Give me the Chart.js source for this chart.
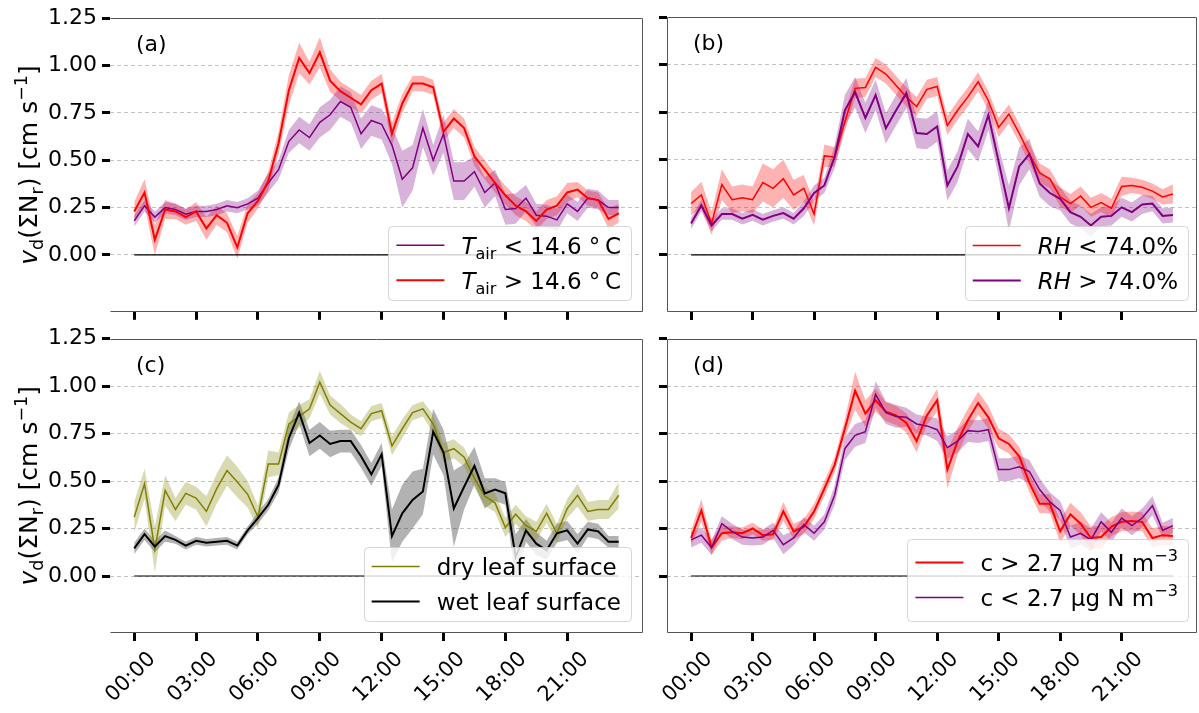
<!DOCTYPE html>
<html><head><meta charset="utf-8">
<script src="https://cdn.jsdelivr.net/npm/chart.js@4.4.0/dist/chart.umd.min.js"></script>
<style>
html,body{margin:0;padding:0;background:#fff;}
body{width:1199px;height:713px;position:relative;overflow:hidden;}
canvas{position:absolute;}
</style></head><body>
<canvas id="ca"></canvas><canvas id="cb"></canvas><canvas id="cc"></canvas><canvas id="cd"></canvas>
<script>
// ---------- categories & ticks ----------
const times = ['00:00','00:30','01:00','01:30','02:00','02:30','03:00','03:30','04:00','04:30','05:00','05:30',
  '06:00','06:30','07:00','07:30','08:00','08:30','09:00','09:30','10:00','10:30','11:00','11:30',
  '12:00','12:30','13:00','13:30','14:00','14:30','15:00','15:30','16:00','16:30','17:00','17:30',
  '18:00','18:30','19:00','19:30','20:00','20:30','21:00','21:30','22:00','22:30','23:00','23:30'];
const xTickLabels = ['00:00','03:00','06:00','09:00','12:00','15:00','18:00','21:00'];
const yTicks = [0, 0.25, 0.5, 0.75, 1.0, 1.25];

// ---------- (a) air temperature ----------
const aCold = [0.18,0.26,0.20,0.25,0.24,0.215,0.23,0.23,0.24,0.26,0.25,0.27,0.30,0.38,0.45,0.60,0.66,0.62,0.70,0.74,0.81,0.78,0.64,0.71,0.69,0.58,0.40,0.46,0.67,0.50,0.64,0.39,0.39,0.44,0.33,0.38,0.24,0.245,0.30,0.21,0.205,0.185,0.27,0.23,0.30,0.29,0.25,0.25];
const aColdErr = [0.03,0.03,0.03,0.03,0.03,0.03,0.03,0.03,0.03,0.03,0.03,0.03,0.04,0.05,0.05,0.06,0.07,0.07,0.08,0.08,0.08,0.08,0.08,0.08,0.08,0.1,0.15,0.12,0.1,0.08,0.1,0.1,0.1,0.08,0.08,0.07,0.08,0.08,0.07,0.06,0.06,0.06,0.05,0.05,0.05,0.05,0.04,0.04];
const aWarm = [0.23,0.33,0.08,0.24,0.23,0.20,0.23,0.14,0.21,0.17,0.04,0.22,0.285,0.39,0.59,0.87,1.04,0.96,1.07,0.92,0.865,0.83,0.795,0.87,0.905,0.64,0.80,0.905,0.905,0.885,0.65,0.72,0.67,0.52,0.45,0.38,0.315,0.26,0.23,0.18,0.24,0.26,0.33,0.345,0.30,0.29,0.19,0.22];
const aWarmErr = [0.05,0.07,0.08,0.05,0.04,0.04,0.05,0.06,0.05,0.05,0.06,0.05,0.04,0.05,0.06,0.08,0.08,0.06,0.08,0.06,0.05,0.05,0.05,0.05,0.05,0.06,0.05,0.04,0.04,0.04,0.05,0.05,0.05,0.05,0.05,0.05,0.05,0.05,0.05,0.05,0.05,0.05,0.05,0.04,0.04,0.04,0.05,0.05];

// ---------- (b) relative humidity ----------
const bDry = [0.27,0.315,0.165,0.37,0.29,0.30,0.29,0.38,0.35,0.40,0.315,0.35,0.215,0.52,0.515,0.70,0.875,0.88,0.985,0.95,0.89,0.83,0.78,0.87,0.885,0.68,0.76,0.83,0.91,0.81,0.67,0.74,0.64,0.53,0.43,0.40,0.305,0.27,0.31,0.25,0.275,0.245,0.36,0.365,0.355,0.335,0.305,0.32];
const bDryErr = [0.06,0.07,0.06,0.08,0.07,0.07,0.07,0.1,0.1,0.1,0.08,0.07,0.06,0.06,0.05,0.05,0.05,0.05,0.05,0.05,0.05,0.05,0.05,0.05,0.05,0.05,0.05,0.05,0.05,0.05,0.05,0.05,0.05,0.05,0.05,0.05,0.05,0.05,0.05,0.05,0.05,0.05,0.05,0.04,0.04,0.04,0.04,0.05];
const bHumid = [0.165,0.26,0.155,0.215,0.215,0.19,0.21,0.185,0.205,0.22,0.19,0.245,0.325,0.365,0.515,0.76,0.855,0.72,0.84,0.665,0.76,0.85,0.64,0.635,0.675,0.365,0.465,0.635,0.57,0.735,0.49,0.245,0.465,0.53,0.375,0.325,0.295,0.225,0.2,0.155,0.2,0.205,0.25,0.225,0.265,0.27,0.205,0.21];
const bHumidErr = [0.03,0.03,0.03,0.03,0.03,0.03,0.03,0.03,0.03,0.03,0.03,0.04,0.04,0.04,0.06,0.08,0.08,0.08,0.08,0.08,0.08,0.08,0.08,0.08,0.08,0.08,0.08,0.08,0.08,0.08,0.08,0.12,0.1,0.08,0.07,0.07,0.06,0.06,0.06,0.06,0.05,0.05,0.05,0.05,0.05,0.04,0.04,0.04];

// ---------- (c) leaf surface ----------
const cDryLeaf = [0.31,0.485,0.14,0.45,0.35,0.435,0.41,0.34,0.46,0.555,0.495,0.43,0.31,0.59,0.59,0.80,0.84,0.88,1.02,0.90,0.855,0.81,0.775,0.855,0.87,0.685,0.775,0.86,0.88,0.80,0.65,0.67,0.625,0.515,0.42,0.385,0.255,0.325,0.265,0.235,0.33,0.225,0.355,0.425,0.34,0.35,0.35,0.425];
const cDryLeafErr = [0.08,0.08,0.12,0.08,0.06,0.06,0.06,0.08,0.08,0.08,0.08,0.07,0.06,0.07,0.06,0.06,0.06,0.05,0.06,0.05,0.05,0.04,0.04,0.04,0.04,0.05,0.05,0.04,0.04,0.05,0.05,0.05,0.05,0.05,0.05,0.05,0.05,0.05,0.05,0.05,0.05,0.05,0.05,0.06,0.05,0.05,0.05,0.07];
const cWetLeaf = [0.145,0.22,0.155,0.21,0.19,0.16,0.185,0.175,0.18,0.185,0.16,0.24,0.305,0.375,0.48,0.725,0.86,0.70,0.74,0.695,0.71,0.71,0.63,0.535,0.64,0.21,0.33,0.40,0.445,0.76,0.65,0.355,0.47,0.58,0.435,0.455,0.435,0.10,0.24,0.17,0.135,0.225,0.24,0.17,0.245,0.235,0.18,0.18];
const cWetLeafErr = [0.03,0.03,0.03,0.03,0.02,0.02,0.02,0.02,0.02,0.02,0.02,0.02,0.03,0.03,0.04,0.06,0.06,0.07,0.07,0.07,0.06,0.06,0.06,0.06,0.06,0.14,0.15,0.15,0.12,0.12,0.12,0.2,0.12,0.1,0.08,0.06,0.06,0.12,0.06,0.06,0.05,0.05,0.05,0.05,0.04,0.04,0.03,0.03];

// ---------- (d) concentration ----------
const dHighC = [0.20,0.345,0.15,0.225,0.23,0.225,0.25,0.215,0.22,0.34,0.235,0.26,0.34,0.46,0.585,0.775,0.975,0.855,0.925,0.865,0.845,0.805,0.71,0.845,0.925,0.56,0.71,0.82,0.91,0.835,0.725,0.695,0.63,0.49,0.38,0.38,0.235,0.325,0.275,0.20,0.205,0.26,0.285,0.29,0.285,0.20,0.215,0.21];
const dHighCErr = [0.04,0.06,0.04,0.04,0.03,0.03,0.03,0.03,0.03,0.05,0.04,0.04,0.04,0.04,0.04,0.05,0.1,0.07,0.06,0.05,0.05,0.05,0.06,0.05,0.06,0.1,0.07,0.06,0.06,0.06,0.05,0.05,0.05,0.05,0.05,0.05,0.06,0.06,0.06,0.06,0.06,0.05,0.05,0.05,0.05,0.05,0.05,0.05];
const dLowC = [0.19,0.215,0.15,0.275,0.235,0.205,0.20,0.205,0.24,0.165,0.20,0.27,0.225,0.285,0.425,0.67,0.74,0.76,0.955,0.86,0.84,0.835,0.80,0.79,0.77,0.675,0.71,0.765,0.76,0.77,0.56,0.56,0.575,0.55,0.455,0.39,0.345,0.205,0.225,0.19,0.285,0.23,0.305,0.265,0.305,0.37,0.24,0.265];
const dLowCErr = [0.04,0.04,0.04,0.04,0.04,0.04,0.04,0.04,0.04,0.05,0.04,0.04,0.04,0.04,0.05,0.06,0.06,0.06,0.07,0.06,0.06,0.05,0.05,0.05,0.06,0.06,0.06,0.06,0.06,0.06,0.06,0.06,0.06,0.06,0.06,0.05,0.05,0.06,0.06,0.06,0.05,0.05,0.05,0.05,0.05,0.05,0.04,0.04];

const zeroLevel = 0;

// ---------- styling ----------
const FAM = '"DejaVu Sans"';
const RED = '#ff0000', PURPLE = '#800080', OLIVE = '#808000', BLACK = '#000000';
function rgba(hex, a){ const n=parseInt(hex.slice(1),16); return `rgba(${n>>16&255},${n>>8&255},${n&255},${a})`; }
function fnt(size, it){ return (it?'italic ':'') + size + 'px ' + FAM; }
function richWidth(ctx, segs, size){ let w=0; for(const s of segs){ ctx.font=fnt(s.s?size*0.7:size, s.i); w+=ctx.measureText(s.t).width; } return w; }
function drawRich(ctx, segs, x, y, size){
  let cx=x;
  for(const s of segs){
    const sz = s.s?size*0.7:size; ctx.font=fnt(sz,s.i);
    let dy=0; if(s.s==='sub') dy=size*0.22; if(s.s==='sup') dy=-size*0.42;
    ctx.fillText(s.t,cx,y+dy); cx+=ctx.measureText(s.t).width;
  }
}

const yLabelSegs = [{t:'v',i:true},{t:'d',s:'sub'},{t:'(ΣN'},{t:'r',s:'sub'},{t:') [cm s'},{t:'−1',s:'sup'},{t:']'}];

const legendPlugin = { id:'mplLegend', afterDraw(chart, args, o){
  const ctx=chart.ctx, ca=chart.chartArea;
  const items = chart.data.datasets.filter(d=>d.rich).sort((a,b)=>a.legendIdx-b.legendIdx);
  const size=o.fontSize; let maxW=0;
  for(const d of items) maxW=Math.max(maxW, richWidth(ctx,d.rich,size));
  const padL=8, lineLen=48, gap=17, padR=10;
  const w=padL+lineLen+gap+maxW+padR, h=o.height;
  const x1=ca.right-o.gapRight-w, y1=ca.bottom-o.gapBottom-h;
  ctx.save();
  ctx.beginPath(); ctx.roundRect(Math.round(x1)+0.5, Math.round(y1)+0.5, Math.round(w), Math.round(h), 4);
  ctx.fillStyle='rgba(255,255,255,0.8)'; ctx.fill();
  ctx.strokeStyle='rgba(204,204,204,0.8)'; ctx.lineWidth=1; ctx.stroke();
  const n=items.length;
  items.forEach((d,k)=>{
    const cy=y1+h/2+(k-(n-1)/2)*35;
    ctx.beginPath(); ctx.strokeStyle=d.borderColor; ctx.lineWidth=d.borderWidth;
    ctx.moveTo(x1+padL,cy); ctx.lineTo(x1+padL+lineLen,cy); ctx.stroke();
    ctx.fillStyle='#000'; ctx.textBaseline='alphabetic'; ctx.textAlign='left';
    drawRich(ctx,d.rich,x1+padL+lineLen+gap,cy+size*0.36,size);
  });
  ctx.restore();
}};

const framePlugin = { id:'frame', afterDatasetsDraw(chart, args, o){
  const ctx=chart.ctx, ca=chart.chartArea;
  const L=Math.round(ca.left)+0.5, R=Math.round(ca.right)-0.5, T=Math.round(ca.top)+0.5, B=Math.round(ca.bottom)-0.5;
  ctx.save(); ctx.strokeStyle='#555'; ctx.lineWidth=1; ctx.beginPath();
  ctx.moveTo(L,T); ctx.lineTo(R,T); ctx.lineTo(R,B); ctx.lineTo(L,B);
  if(o.left){ ctx.moveTo(L,T); ctx.lineTo(L,B); }
  ctx.stroke(); ctx.restore();
}};

const textPlugin = { id:'texts', afterDraw(chart, args, o){
  const ctx=chart.ctx, ca=chart.chartArea;
  ctx.save(); ctx.fillStyle='#000'; ctx.textAlign='left'; ctx.textBaseline='alphabetic';
  ctx.font=fnt(22,false); ctx.fillText(o.tag, ca.left+26, ca.top+33);
  if(o.ylabel){
    const size=25; const w=richWidth(ctx,yLabelSegs,size);
    ctx.translate(o.ylabelX, (ca.top+ca.bottom)/2); ctx.rotate(-Math.PI/2);
    drawRich(ctx,yLabelSegs,-w/2,size*0.36,size);
  }
  ctx.restore();
}};

function pts(arr, off, sign){ return arr.map((v,i)=>({x:i, y: off? v+sign*off[i] : v})); }

function buildDatasets(series){
  const ds=[];
  series.forEach((s,k)=>{
    ds.push({data:pts(s.mean), borderColor:s.color, borderWidth:s.width, pointRadius:0, tension:0, fill:false, order:k===0?1:0, rich:s.rich, legendIdx:k});
  });
  ds.push({data:times.map((t,i)=>({x:i,y:zeroLevel})), borderColor:'#000', borderWidth:1.2, pointRadius:0, fill:false, order:5});
  series.forEach((s,k)=>{
    const lowIdx=ds.length;
    ds.push({data:pts(s.mean,s.err,-1), borderColor:'rgba(0,0,0,0)', borderWidth:1, pointRadius:0, tension:0, fill:false, order:10+k});
    ds.push({data:pts(s.mean,s.err,1), borderColor:'rgba(0,0,0,0)', borderWidth:1, pointRadius:0, tension:0, fill:lowIdx, backgroundColor:rgba(s.color,0.3), order:10+k});
  });
  return ds;
}

function makeChart(id, rect, area, series, opt){
  const cv=document.getElementById(id);
  cv.style.left=rect[0]+'px'; cv.style.top=rect[1]+'px';
  cv.width=rect[2]; cv.height=rect[3]; cv.style.width=rect[2]+'px'; cv.style.height=rect[3]+'px';
  const yW=area.left-rect[0], padTop=area.top-rect[1], padRight=rect[0]+rect[2]-area.right, xH=rect[1]+rect[3]-area.bottom;
  return new Chart(cv, {
    type:'line',
    data:{datasets:buildDatasets(series)},
    options:{
      responsive:false, animation:false, devicePixelRatio:1,
      layout:{padding:{left:0, top:padTop, right:padRight, bottom:0}},
      plugins:{legend:{display:false}, tooltip:{enabled:false},
        mplLegend:{fontSize:23, height:opt.legH, gapRight:opt.gapR, gapBottom:12},
        frame:{left:opt.leftSpine},
        texts:{tag:opt.tag, ylabel:opt.ylabel, ylabelX:28}},
      scales:{
        x:{type:'linear', min:-2.35, max:49.35,
          afterBuildTicks:s=>{ s.ticks = xTickLabels.map(l=>({value:times.indexOf(l)})); },
          afterFit:s=>{ s.height=xH; },
          ticks:{display:opt.xLabels, autoSkip:false, minRotation:45, maxRotation:45, color:'#000',
            font:{family:FAM, size:21}, padding:6, labelOffset:18, callback:v=>times[v]},
          grid:{drawOnChartArea:false, drawTicks:true, tickLength:8, tickWidth:3, tickColor:'#000'},
          border:{display:false}},
        y:{type:'linear', min:-0.3, max:1.25,
          afterBuildTicks:s=>{ s.ticks = yTicks.map(v=>({value:v})); },
          afterFit:s=>{ s.width=yW; },
          ticks:{display:opt.yLabels, color:'#000', font:{family:FAM, size:22}, padding:5, callback:v=>v.toFixed(2)},
          grid:{color:c=>(c.tick && c.tick.value===1.25)?'rgba(0,0,0,0)':'#c4c4c4', lineWidth:1,
            drawTicks:true, tickLength:8, tickWidth:3, tickColor:'#000'},
          border:{display:false, dash:[4,3]}}
      }
    },
    plugins:[framePlugin, legendPlugin, textPlugin]
  });
}

const TAIR = (op)=>[{t:'T',i:true},{t:'air',s:'sub'},{t:' '+op+' 14.6 °\u2009C'}];
const RHL = (op)=>[{t:'RH',i:true},{t:' '+op+' 74.0%'}];
const CONC = (op)=>[{t:'c '+op+' 2.7 µg N m'},{t:'−3',s:'sup'}];

makeChart('ca',[0,0,660,330],{left:110,top:17,right:643,bottom:312},[
  {mean:aCold, err:aColdErr, color:PURPLE, width:1.5, rich:TAIR('<')},
  {mean:aWarm, err:aWarmErr, color:RED, width:2, rich:TAIR('>')}
],{tag:'(a)', ylabel:true, xLabels:false, yLabels:true, leftSpine:false, legH:74, gapR:12});

makeChart('cb',[600,0,599,330],{left:667,top:17,right:1197,bottom:312},[
  {mean:bDry, err:bDryErr, color:RED, width:1.5, rich:RHL('<')},
  {mean:bHumid, err:bHumidErr, color:PURPLE, width:2, rich:RHL('>')}
],{tag:'(b)', ylabel:false, xLabels:false, yLabels:false, leftSpine:true, legH:74, gapR:9});

makeChart('cc',[0,318,660,395],{left:110,top:338.5,right:643,bottom:633},[
  {mean:cDryLeaf, err:cDryLeafErr, color:OLIVE, width:1.5, rich:[{t:'dry leaf surface'}]},
  {mean:cWetLeaf, err:cWetLeafErr, color:BLACK, width:2, rich:[{t:'wet leaf surface'}]}
],{tag:'(c)', ylabel:true, xLabels:true, yLabels:true, leftSpine:false, legH:74, gapR:12});

makeChart('cd',[600,318,599,395],{left:667,top:338.5,right:1197,bottom:633},[
  {mean:dHighC, err:dHighCErr, color:RED, width:2, rich:CONC('>')},
  {mean:dLowC, err:dLowCErr, color:PURPLE, width:1.5, rich:CONC('<')}
],{tag:'(d)', ylabel:false, xLabels:true, yLabels:false, leftSpine:true, legH:82, gapR:9});
</script>
</body></html>
